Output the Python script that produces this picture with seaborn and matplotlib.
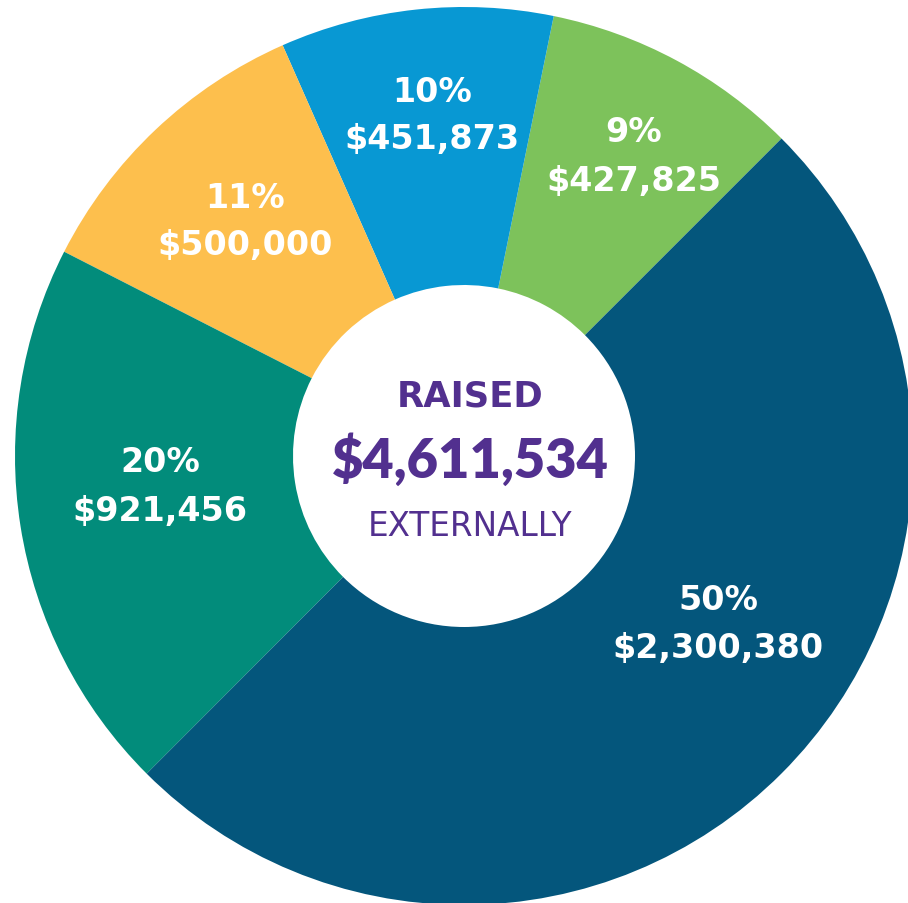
import matplotlib
matplotlib.use('Agg')
import matplotlib.pyplot as plt
import seaborn as sns

# data (counter-clockwise from the top-right boundary)
amounts = [427825, 451873, 500000, 921456, 2300380]
pct_labels = ['9%', '10%', '11%', '20%', '50%']
amount_labels = ['$427,825', '$451,873', '$500,000', '$921,456', '$2,300,380']
slice_colors = ['#7DC25B', '#0898D3', '#FDBF4D', '#028C7B', '#04567C']
center_lines = ['RAISED', '$4,611,534', 'EXTERNALLY']

sns.set_theme(style='white')
plt.rcParams['font.family'] = ['DejaVu Sans']

fig = plt.figure(figsize=(9.08, 9.04), dpi=100)
ax = fig.add_axes([0, 0, 1, 1])

outer_r = 449
ring_w = 278
wedges, _ = ax.pie(amounts, colors=sns.color_palette(slice_colors), startangle=45,
                   counterclock=True, radius=outer_r,
                   wedgeprops=dict(width=ring_w, linewidth=0))

# label anchors (pixel offsets from centre, y up)
label_pos = [(170, 300), (-32, 341), (-219, 235), (-304, -30), (254, -168)]
for (x, y), p, a in zip(label_pos, pct_labels, amount_labels):
    ax.text(x, y + 24, p, ha='center', va='center', color='white',
            fontsize=24, fontweight='bold')
    ax.text(x, y - 24, a, ha='center', va='center', color='white',
            fontsize=24, fontweight='bold')

purple = '#52308F'
ax.text(6, 60, center_lines[0], ha='center', va='center', color=purple,
        fontsize=25.5, fontweight='bold')
ax.text(6, -3, center_lines[1], ha='center', va='center', color=purple,
        fontsize=39, fontweight='heavy', family=['Lato', 'DejaVu Sans'])
ax.text(6, -70, center_lines[2], ha='center', va='center', color=purple,
        fontsize=23.5)

ax.set_aspect('auto')
ax.set_xlim(-464, 444)
ax.set_ylim(-447, 457)
ax.axis('off')

fig.savefig('out.png', dpi=100, facecolor='white')
